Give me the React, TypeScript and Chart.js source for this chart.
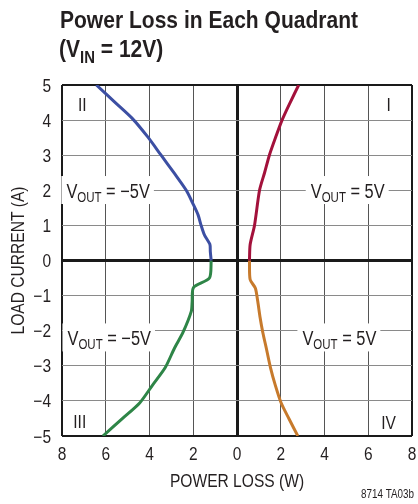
import React, { useEffect, useRef } from "react";
import { Chart, registerables } from "chart.js";

Chart.register(...registerables);

// Quadrant II (VOUT = -5V, positive current) – blue
const q2Loss = [-1.18, -1.22, -1.24, -1.49, -1.64, -1.78, -2.0, -2.32, -2.86, -3.47, -4.08, -4.79, -5.6, -6.43];
const q2Current = [0, 0.25, 0.46, 0.73, 1.0, 1.3, 1.6, 2.0, 2.48, 3.0, 3.52, 4.05, 4.52, 5.0];
// Quadrant III (VOUT = -5V, negative current) – green
const q3Loss = [-1.18, -1.26, -1.99, -2.05, -2.09, -2.47, -2.86, -3.28, -3.86, -4.45, -5.23, -6.13];
const q3Current = [0, -0.5, -0.77, -1.17, -1.45, -2.05, -2.5, -3.05, -3.55, -4.06, -4.5, -5.0];
// Quadrant I (VOUT = 5V, positive current) – red
const q1Loss = [0.57, 0.6, 0.8, 1.03, 1.26, 1.48, 1.76, 2.06, 2.43, 2.82];
const q1Current = [0, 0.45, 1.0, 2.0, 2.5, 3.0, 3.5, 4.0, 4.5, 5.0];
// Quadrant IV (VOUT = 5V, negative current) – orange
const q4Loss = [0.57, 0.6, 0.84, 0.95, 1.05, 1.18, 1.34, 1.53, 1.75, 2.02, 2.37, 2.78];
const q4Current = [0, -0.54, -0.79, -1.17, -1.6, -2.05, -2.5, -3.05, -3.55, -4.06, -4.5, -5.0];

const xTicks = [-8, -6, -4, -2, 0, 2, 4, 6, 8];
const yTicks = [-5, -4, -3, -2, -1, 0, 1, 2, 3, 4, 5];

const FONT = "'Liberation Sans', Arial, sans-serif";
const SX = 0.82; // condensed look
const INK = "#231f20";

const pts = (xs: number[], ys: number[]) => xs.map((x, i) => ({ x, y: ys[i] }));

function txt(
  ctx: CanvasRenderingContext2D,
  s: string,
  x: number,
  y: number,
  font: string,
  align: "left" | "center" | "right" = "left",
  sx: number = SX
) {
  ctx.font = font;
  const w = ctx.measureText(s).width * sx;
  const x0 = align === "left" ? x : align === "right" ? x - w : x - w / 2;
  ctx.save();
  ctx.translate(x0, y);
  ctx.scale(sx, 1);
  ctx.textAlign = "left";
  ctx.fillText(s, 0, 0);
  ctx.restore();
  return w;
}

const textPlugin = {
  id: "texts",
  beforeDatasetsDraw(chart: any) {
    const ctx = chart.ctx as CanvasRenderingContext2D;
    const xs = chart.scales.x;
    const ys = chart.scales.y;
    ctx.save();
    ctx.textBaseline = "alphabetic";
    const drawLabel = (value: string, anchorX: number, align: "left" | "right", baseY: number) => {
      const big = `20px ${FONT}`;
      const small = `14px ${FONT}`;
      ctx.font = big;
      const wV = ctx.measureText("V").width * SX;
      const rest = " = " + value;
      const wR = ctx.measureText(rest).width * SX;
      ctx.font = small;
      const wS = ctx.measureText("OUT").width * SX;
      const total = wV + wS + wR;
      const left = align === "left" ? anchorX : anchorX - total;
      ctx.fillStyle = "#ffffff";
      ctx.fillRect(left - 5, baseY - 22, total + 9, 28);
      ctx.fillStyle = INK;
      txt(ctx, "V", left, baseY, big);
      txt(ctx, "OUT", left + wV, baseY + 4, small);
      txt(ctx, rest, left + wV + wS, baseY, big);
    };
    const topBase = ys.getPixelForValue(1.78);
    const botBase = ys.getPixelForValue(-2.42);
    drawLabel("\u22125V", xs.getPixelForValue(-7.8), "left", topBase);
    drawLabel("5V", xs.getPixelForValue(6.75), "right", topBase);
    drawLabel("\u22125V", xs.getPixelForValue(-7.75), "left", botBase);
    drawLabel("5V", xs.getPixelForValue(6.37), "right", botBase);
    ctx.restore();
  },
  afterDraw(chart: any) {
    const ctx = chart.ctx as CanvasRenderingContext2D;
    const xs = chart.scales.x;
    const ys = chart.scales.y;
    const area = chart.chartArea;
    ctx.save();
    ctx.fillStyle = INK;
    ctx.textBaseline = "alphabetic";

    // Title
    const tFont = `bold 24px ${FONT}`;
    ctx.font = tFont;
    const tsx = 298 / ctx.measureText("Power Loss in Each Quadrant").width;
    txt(ctx, "Power Loss in Each Quadrant", 60, 28, tFont, "left", tsx);
    let x = 59;
    x += txt(ctx, "(V", x, 57, tFont, "left", tsx);
    x += txt(ctx, "IN", x, 63, `bold 17px ${FONT}`, "left", tsx);
    txt(ctx, " = 12V)", x, 57, tFont, "left", tsx);

    // Tick labels (positions from the chart's scales)
    const tickFont = `18px ${FONT}`;
    xs.ticks.forEach((t: any) => {
      const px = xs.getPixelForValue(t.value);
      txt(ctx, String(Math.abs(t.value)), px, 460, tickFont, "center", 0.86);
    });
    ys.ticks.forEach((t: any) => {
      const py = ys.getPixelForValue(t.value);
      const s = t.value < 0 ? "\u2212" + Math.abs(t.value) : String(t.value);
      txt(ctx, s, 51, py + 6.5, tickFont, "right", 0.86);
    });

    // Quadrant numerals
    const qFont = `19px ${FONT}`;
    txt(ctx, "II", xs.getPixelForValue(-7.07), ys.getPixelForValue(4.27), qFont, "center");
    txt(ctx, "I", xs.getPixelForValue(6.93), ys.getPixelForValue(4.27), qFont, "center");
    txt(ctx, "III", xs.getPixelForValue(-7.19), ys.getPixelForValue(-4.76), qFont, "center");
    txt(ctx, "IV", xs.getPixelForValue(6.93), ys.getPixelForValue(-4.79), qFont, "center");

    // Axis titles
    const aFont = `19px ${FONT}`;
    txt(ctx, "POWER LOSS (W)", (area.left + area.right) / 2, 487, aFont, "center");
    ctx.save();
    ctx.translate(24, (area.top + area.bottom) / 2);
    ctx.rotate(-Math.PI / 2);
    txt(ctx, "LOAD CURRENT (A)", 0, 0, aFont, "center");
    ctx.restore();

    // Footer code
    txt(ctx, "8714 TA03b", 414, 498, `12px ${FONT}`, "right");
    ctx.restore();
  },
};

export default function App() {
  const ref = useRef<HTMLCanvasElement | null>(null);
  useEffect(() => {
    if (!ref.current) return;
    const chart = new Chart(ref.current, {
      type: "scatter",
      data: {
        datasets: [
          { data: pts(q2Loss, q2Current), borderColor: "#3c4fa3" },
          { data: pts(q3Loss, q3Current), borderColor: "#2e8547" },
          { data: pts(q1Loss, q1Current), borderColor: "#a3113b" },
          { data: pts(q4Loss, q4Current), borderColor: "#c77a2c" },
        ].map((d) => ({
          ...d,
          showLine: true,
          borderWidth: 3,
          pointRadius: 0,
          pointHoverRadius: 0,
          tension: 0.25,
          fill: false,
        })),
      },
      options: {
        responsive: false,
        animation: false,
        events: [],
        layout: { padding: { top: 85, right: 6, left: 0, bottom: 0 } },
        plugins: { legend: { display: false }, tooltip: { enabled: false }, title: { display: false } },
        scales: {
          x: {
            type: "linear",
            min: -8,
            max: 8,
            afterFit: (s: any) => {
              s.height = 68;
            },
            afterBuildTicks: (s: any) => {
              s.ticks = xTicks.map((v) => ({ value: v }));
            },
            border: { display: false },
            grid: {
              drawTicks: false,
              color: (c: any) =>
                c.tick.value === 0 || Math.abs(c.tick.value) === 8 ? "#1a1a1a" : "#555555",
              lineWidth: (c: any) => (c.tick.value === 0 ? 3 : Math.abs(c.tick.value) === 8 ? 2 : 1),
            },
            ticks: { display: false, autoSkip: false },
          },
          y: {
            type: "linear",
            min: -5,
            max: 5,
            afterFit: (s: any) => {
              s.width = 62;
            },
            afterBuildTicks: (s: any) => {
              s.ticks = yTicks.map((v) => ({ value: v }));
            },
            border: { display: false },
            grid: {
              drawTicks: false,
              color: (c: any) =>
                c.tick.value === 0 || Math.abs(c.tick.value) === 5 ? "#1a1a1a" : "#8a8a8a",
              lineWidth: (c: any) => (c.tick.value === 0 ? 3 : Math.abs(c.tick.value) === 5 ? 2 : 1),
            },
            ticks: { display: false, autoSkip: false },
          },
        },
      },
      plugins: [textPlugin],
    } as any);
    return () => chart.destroy();
  }, []);
  return (
    <div style={{ position: "absolute", left: 0, top: 0, width: 418, height: 504, background: "#fff" }}>
      <canvas ref={ref} width={418} height={504} style={{ display: "block" }} />
    </div>
  );
}
